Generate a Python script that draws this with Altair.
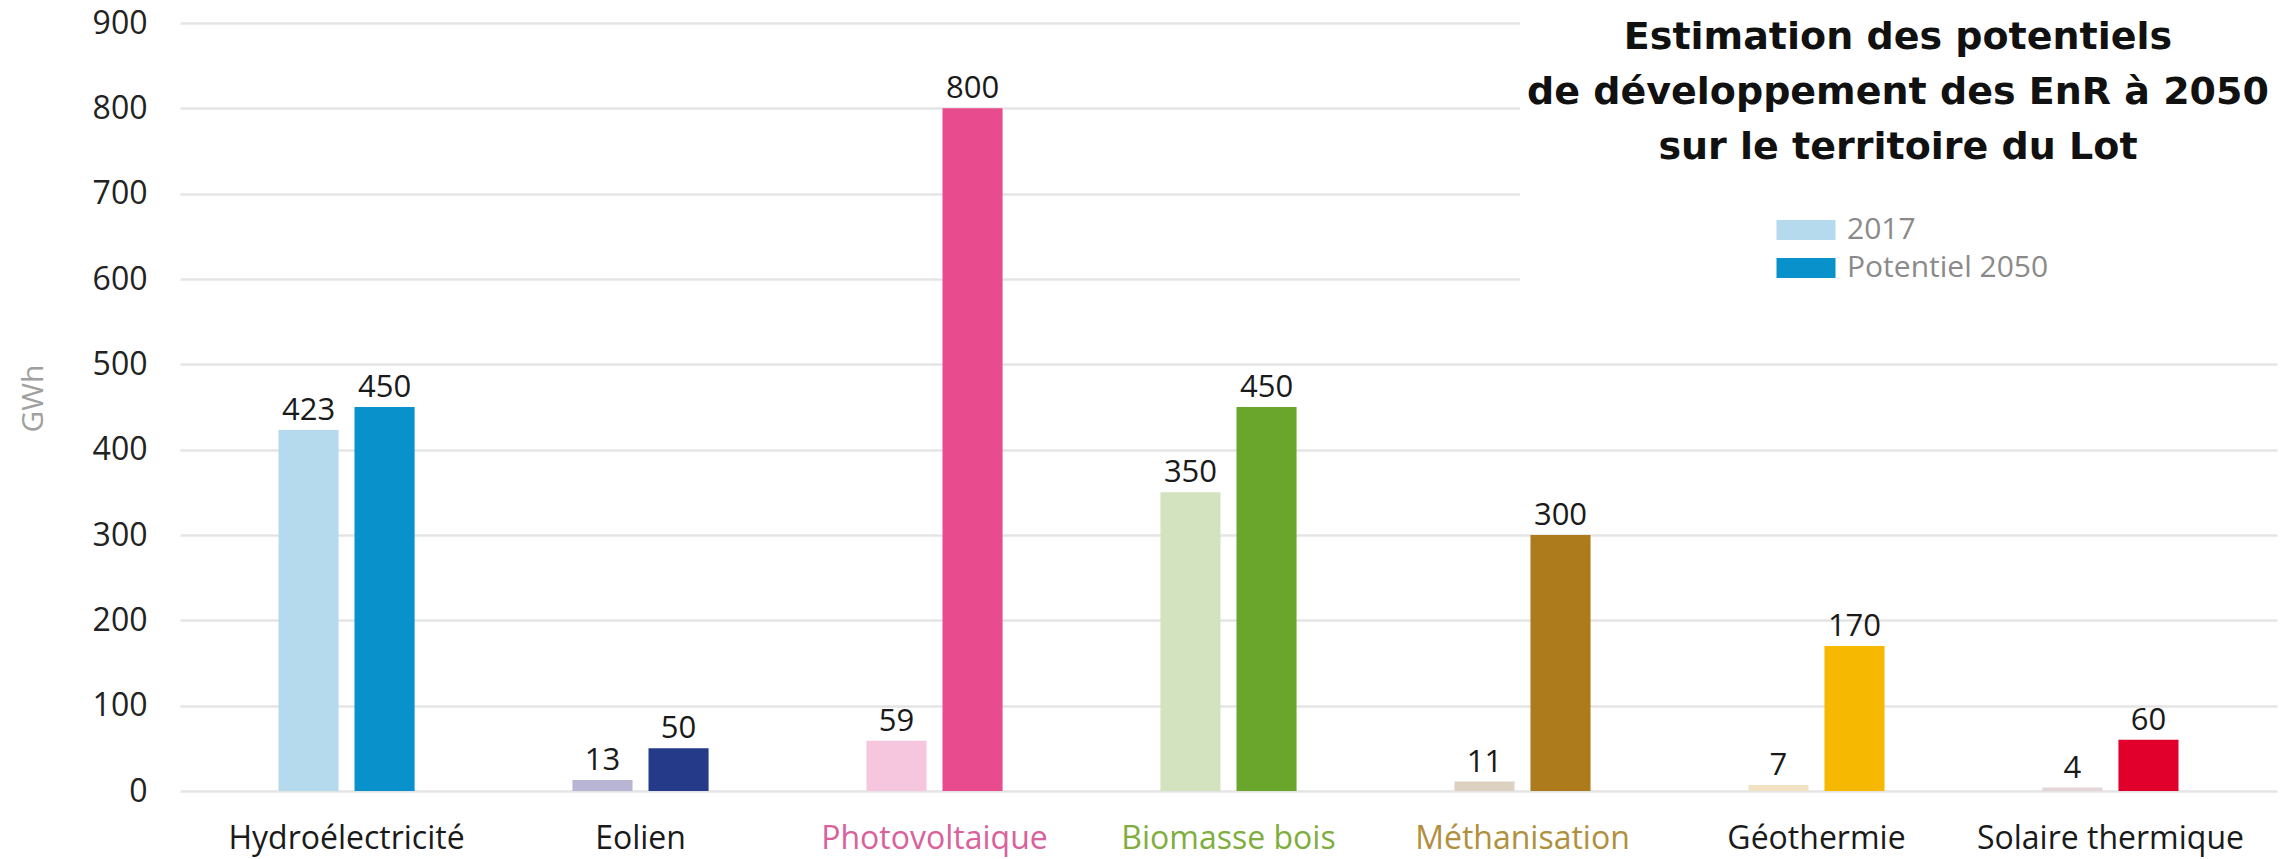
import altair as alt
import pandas as pd

# Energy types (x categories)
categories = ["Hydroélectricité", "Eolien", "Photovoltaique", "Biomasse bois",
              "Méthanisation", "Géothermie", "Solaire thermique"]
series = ["2017", "Potentiel 2050"]

# Production in GWh
values_2017 = [423, 13, 59, 350, 11, 7, 4]
values_2050 = [450, 50, 800, 450, 300, 170, 60]

# One light / dark pair per energy type
colors_2017 = ["#b5daed", "#b7b5d3", "#f6c6de", "#d3e2bf", "#ddd1c2", "#f1e2c4", "#e2d6d8"]
colors_2050 = ["#0891cb", "#263a8a", "#e94b8f", "#6aa62c", "#ad7b1c", "#f6b800", "#e1002b"]
label_colors = ["#1a1a1a", "#1a1a1a", "#d9619c", "#7fae3f", "#b0903d", "#1a1a1a", "#1a1a1a"]
legend_colors = ["#b5daed", "#0891cb"]

title_lines = ["Estimation des potentiels",
               "de développement des EnR à 2050",
               "sur le territoire du Lot"]

rows = []
for cat, v1, v2, c1, c2 in zip(categories, values_2017, values_2050, colors_2017, colors_2050):
    rows.append({"Énergie": cat, "Série": series[0], "GWh": v1, "couleur": c1})
    rows.append({"Énergie": cat, "Série": series[1], "GWh": v2, "couleur": c2})
df = pd.DataFrame(rows)
legend_df = pd.DataFrame({"Série": series})
single = pd.DataFrame({"k": [0]})

FONT = "Open Sans"
W, H = 2097, 768

label_color_expr = " : ".join(
    f"datum.value === '{c}' ? '{col}'" for c, col in zip(categories, label_colors)
) + " : '#1a1a1a'"

x_enc = alt.X(
    "Énergie:N",
    sort=categories,
    scale=alt.Scale(paddingInner=0.537, paddingOuter=0.335),
    axis=alt.Axis(
        title=None, labelAngle=0, domain=False, ticks=False, grid=False,
        labelFont=FONT, labelFontSize=32, labelPadding=32, labelLimit=0,
        labelColor=alt.ExprRef(expr=label_color_expr),
    ),
)
xoff_enc = alt.XOffset("Série:N", sort=series,
                       scale=alt.Scale(paddingInner=0.21, paddingOuter=0))
y_enc = alt.Y(
    "GWh:Q",
    scale=alt.Scale(domain=[0, 900], nice=False),
    axis=alt.Axis(
        values=list(range(0, 1000, 100)), domain=False, ticks=False,
        labelFont=FONT, labelFontSize=32, labelColor="#222222", labelPadding=33,
        gridColor="#e4e4e4", gridWidth=2.5,
        title="GWh", titleFont=FONT, titleFontSize=30, titleFontWeight="normal",
        titleColor="#a0a0a0", titleAngle=-90, titleX=-147, titleY=375,
        titleAlign="center", titleBaseline="middle",
    ),
)

bars = alt.Chart(df).mark_bar().encode(
    x=x_enc, xOffset=xoff_enc, y=y_enc,
    fill=alt.Fill("couleur:N", scale=None),
)

values = alt.Chart(df).mark_text(
    baseline="alphabetic", dy=-10, font=FONT, fontSize=31, color="#1a1a1a"
).encode(x=x_enc, xOffset=xoff_enc, y=y_enc, text=alt.Text("GWh:Q"))

# white panel behind title and legend
panel = alt.Chart(single).mark_rect(color="white").encode(
    x=alt.value(1340), x2=alt.value(W + 10), y=alt.value(-10), y2=alt.value(300)
)

# three-line heading, centred over the panel
heading = alt.Chart(single).mark_text(
    text=title_lines, align="center", baseline="top", lineHeight=55,
    font="DejaVu Sans", fontSize=38, fontWeight="bold", color="#111111",
).encode(x=alt.value(1718), y=alt.value(-4))

legend_layer = alt.Chart(legend_df).mark_square(opacity=0).encode(
    color=alt.Color(
        "Série:N",
        scale=alt.Scale(domain=series, range=legend_colors),
        legend=alt.Legend(
            title=None, orient="none", legendX=1611, legendY=192,
            symbolType="M-5.9,-2H5.9V2H-5.9Z", symbolSize=100,
            symbolOpacity=1, symbolStrokeWidth=0,
            labelFont=FONT, labelFontSize=30, labelColor="#8a8a8a", labelLimit=0,
            labelOffset=26, rowPadding=8, padding=0,
        ),
    )
)

chart = alt.layer(bars, values, panel, heading, legend_layer).properties(
    width=W, height=H,
    autosize=alt.AutoSizeParams(type="none"),
    padding={"left": 180, "top": 23, "right": 19, "bottom": 68},
    background="white",
).configure_view(stroke=None)

chart.save("out.html", embed_options={"renderer": "svg", "actions": False})
